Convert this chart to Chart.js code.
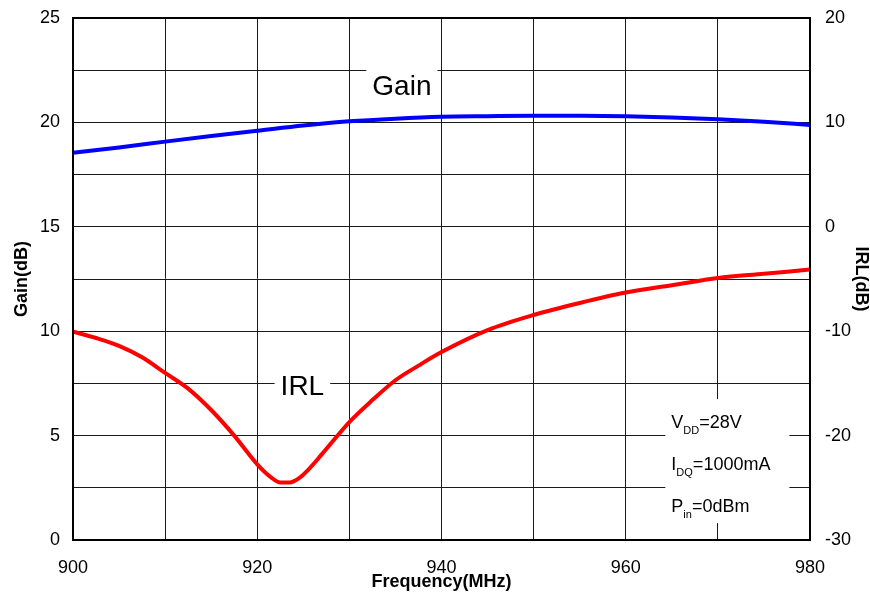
<!DOCTYPE html>
<html>
<head>
<meta charset="utf-8">
<script src="https://cdn.jsdelivr.net/npm/chart.js@4/dist/chart.umd.min.js"></script>
<style>
  html, body { margin: 0; padding: 0; background: #fff; }
  #wrap { width: 870px; height: 604px; }
</style>
</head>
<body>
<div id="wrap"><canvas id="chart"></canvas></div>
<script>
// data

const gainFreq = [900, 905, 910, 915, 920, 925, 930, 935, 940, 945, 950, 955, 960, 965, 970, 975, 980];
const gainDb = [18.55, 18.8, 19.08, 19.35, 19.6, 19.85, 20.05, 20.18, 20.27, 20.3, 20.32, 20.32, 20.3, 20.24, 20.15, 20.03, 19.88];

const irlFreq = [900, 902.5, 905, 907.5, 910, 912.5, 915, 917.5, 920, 921.5, 922.5, 923.5, 924.5, 925.5, 927, 930, 932.5, 935, 937.5, 940, 945, 950, 955, 960, 965, 970, 975, 980];
const irlDb = [-10.05, -10.65, -11.4, -12.5, -14.0, -15.5, -17.55, -20.0, -22.75, -24.0, -24.5, -24.5, -24.1, -23.3, -21.8, -18.7, -16.6, -14.7, -13.3, -12.0, -9.9, -8.45, -7.3, -6.3, -5.6, -4.9, -4.5, -4.1];

const xTicks = [900, 920, 940, 960, 980];
const gainTicks = [0, 5, 10, 15, 20, 25];
const irlTicks = [-30, -20, -10, 0, 10, 20];

// labels inside the plot (positions in data units: freq, gain axis)
const curveLabels = [
    { text: 'Gain', x: 935.7, y: 21.75 },
    { text: 'IRL', x: 924.9, y: 7.35 }
];
const conditions = [
    ['V', 'DD', '=28V'],
    ['I', 'DQ', '=1000mA'],
    ['P', 'in', '=0dBm']
];

const FONT = "'Liberation Sans', Arial, sans-serif";

const toPts = (xs, ys) => xs.map((x, i) => ({ x: x, y: ys[i] }));

// white boxes and texts over the grid
const labelsPlugin = {
    id: 'labels',
    beforeDatasetsDraw(chart) {
        const ctx = chart.ctx;
        const x = chart.scales.x;
        const y = chart.scales.y;
        ctx.save();
        ctx.font = '28px ' + FONT;
        ctx.textAlign = 'center';
        ctx.textBaseline = 'middle';
        curveLabels.forEach(l => {
            const px = x.getPixelForValue(l.x);
            const py = y.getPixelForValue(l.y);
            const w = ctx.measureText(l.text).width + 12;
            ctx.fillStyle = '#fff';
            ctx.fillRect(px - w / 2, py - 20, w, 40);
            ctx.fillStyle = '#000';
            ctx.fillText(l.text, px, py + 1);
        });

        // conditions box
        const bx = x.getPixelForValue(964.3);
        const by = y.getPixelForValue(6.75);
        ctx.fillStyle = '#fff';
        ctx.fillRect(bx, by, 124, 124);
        ctx.textAlign = 'left';
        ctx.textBaseline = 'alphabetic';
        ctx.fillStyle = '#000';
        conditions.forEach((c, i) => {
            let tx = bx + 6;
            const ty = by + 29 + i * 42;
            ctx.font = '18px ' + FONT;
            ctx.fillText(c[0], tx, ty);
            tx += ctx.measureText(c[0]).width;
            ctx.font = '11px ' + FONT;
            ctx.fillText(c[1], tx, ty + 6);
            tx += ctx.measureText(c[1]).width;
            ctx.font = '18px ' + FONT;
            ctx.fillText(c[2], tx, ty);
        });
        ctx.restore();
    },
    afterDatasetsDraw(chart) {
        const a = chart.chartArea;
        const ctx = chart.ctx;
        ctx.save();
        ctx.strokeStyle = '#000';
        ctx.lineWidth = 2;
        ctx.strokeRect(a.left, a.top, a.right - a.left, a.bottom - a.top);
        ctx.restore();
    }
};

const tickFont = { family: FONT, size: 18 };
const titleFont = { family: FONT, size: 18, weight: 'bold', lineHeight: 1 };

// fixed axis sizes, no extra padding for overflowing labels
function fixSize(w, h) {
    return s => {
        if (w) s.width = w;
        if (h) s.height = h;
        s.paddingTop = 0;
        s.paddingBottom = 0;
        s.paddingLeft = 0;
        s.paddingRight = 0;
    };
}

new Chart(document.getElementById('chart'), {
    type: 'line',
    data: {
        datasets: [{
            label: 'Gain',
            data: toPts(gainFreq, gainDb),
            borderColor: '#0000ff',
            borderWidth: 4,
            pointRadius: 0,
            cubicInterpolationMode: 'monotone',
            yAxisID: 'y'
        }, {
            label: 'IRL',
            data: toPts(irlFreq, irlDb),
            borderColor: '#ff0000',
            borderWidth: 4,
            pointRadius: 0,
            cubicInterpolationMode: 'monotone',
            yAxisID: 'y2'
        }]
    },
    options: {
        responsive: true,
        maintainAspectRatio: false,
        animation: false,
        layout: { padding: { top: 18, left: 0, right: 0, bottom: 0 } },
        plugins: {
            legend: { display: false },
            tooltip: { enabled: false }
        },
        scales: {
            x: {
                type: 'linear',
                min: 900,
                max: 980,
                afterFit: fixSize(0, 64),
                ticks: {
                    stepSize: 10,
                    color: '#000',
                    font: tickFont,
                    padding: 17,
                    maxRotation: 0,
                    callback: v => xTicks.includes(v) ? String(v) : ''
                },
                grid: { color: '#1a1a1a', lineWidth: 1, drawTicks: false },
                border: { color: '#000', width: 2 },
                title: {
                    display: true,
                    text: 'Frequency(MHz)',
                    color: '#000',
                    font: titleFont,
                    padding: { top: 0, bottom: 13 }
                }
            },
            y: {
                position: 'left',
                min: 0,
                max: 25,
                afterFit: fixSize(73, 0),
                ticks: {
                    stepSize: 2.5,
                    color: '#000',
                    font: tickFont,
                    padding: 13,
                    callback: v => gainTicks.includes(v) ? String(v) : ''
                },
                grid: { color: '#1a1a1a', lineWidth: 1, drawTicks: false },
                border: { color: '#000', width: 2 },
                title: {
                    display: true,
                    text: 'Gain(dB)',
                    color: '#000',
                    font: titleFont,
                    padding: { top: 13, bottom: 0 }
                }
            },
            y2: {
                position: 'right',
                min: -30,
                max: 20,
                afterFit: fixSize(60, 0),
                ticks: {
                    stepSize: 5,
                    color: '#000',
                    font: tickFont,
                    padding: 15,
                    callback: v => irlTicks.includes(v) ? String(v) : ''
                },
                grid: { display: false, drawTicks: false },
                border: { color: '#000', width: 2 },
                title: {
                    display: true,
                    text: 'IRL(dB)',
                    color: '#000',
                    font: titleFont,
                    padding: { top: 0, bottom: 0 }
                }
            }
        }
    },
    plugins: [labelsPlugin]
});
</script>
</body>
</html>
